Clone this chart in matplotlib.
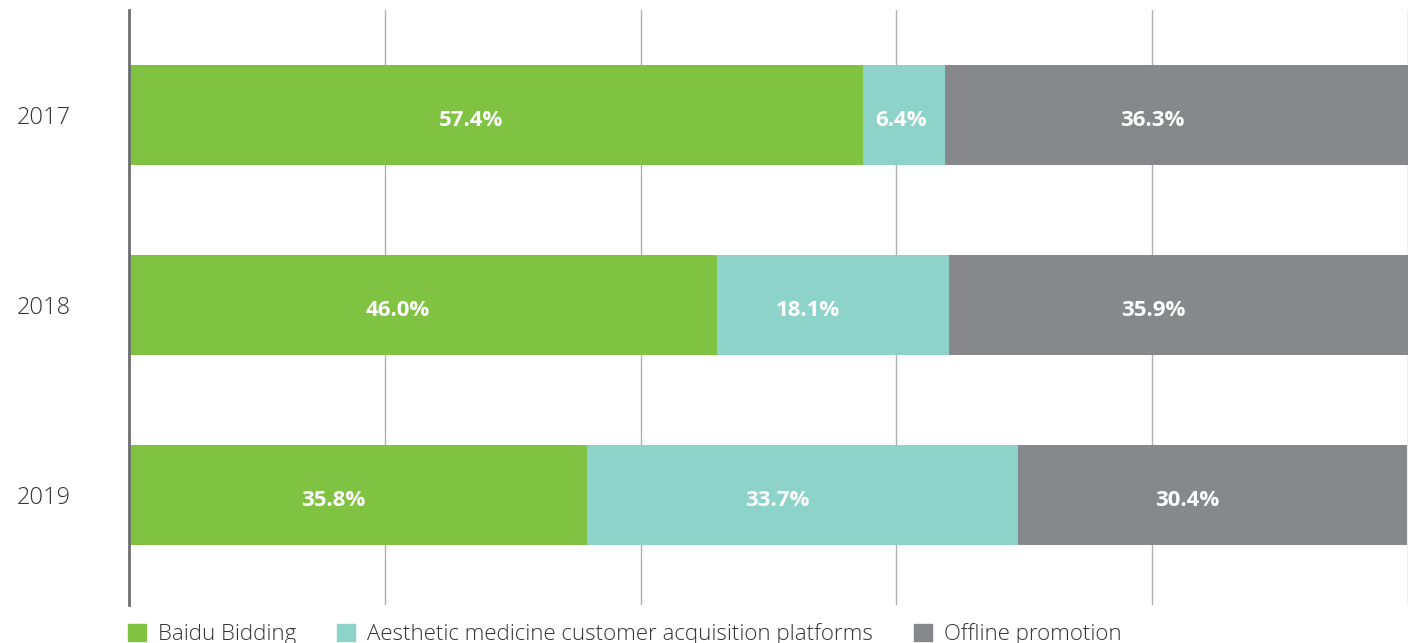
import numpy as np
import matplotlib.pyplot as plt
from matplotlib.patches import Patch

plt.rcParams['font.family'] = ['Open Sans', 'DejaVu Sans']

years = ['2017', '2018', '2019']
baidu = [57.4, 46.0, 35.8]
platforms = [6.4, 18.1, 33.7]
offline = [36.3, 35.9, 30.4]
series_names = ['Baidu Bidding', 'Aesthetic medicine customer acquisition platforms', 'Offline promotion']
colors = ['#80c242', '#8dd3ca', '#86888c']

fig = plt.figure(figsize=(14.13, 6.43), dpi=100)
ax = fig.add_axes([129 / 1413, 38 / 643, 1279 / 1413, 595 / 643])

y = np.arange(len(years))
left = np.zeros(len(years))
for vals, c in zip([baidu, platforms, offline], colors):
    vals = np.array(vals)
    ax.barh(y, vals, left=left, height=0.526, color=c, zorder=3)
    for yi, l, v in zip(y, left, vals):
        shift = -1.95 if v > 10 else -0.25
        ax.text(l + v / 2 + shift, yi + 0.03, f'{v:.1f}%', ha='center', va='center',
                color='white', fontsize=16, fontweight='bold', zorder=4)
    left = left + vals

ax.set_xlim(0, 100)
ax.set_ylim(2.579, -0.553)
ax.set_xticks([0, 20, 40, 60, 80, 100])
ax.set_xticklabels([])
ax.tick_params(axis='x', length=0)
ax.grid(axis='x', color='#b0b0b0', linewidth=1, zorder=0)
ax.set_yticks(y)
ax.set_yticklabels(years, fontsize=17, color='#333333', fontweight='light')
ax.tick_params(axis='y', length=0, pad=42)
for s in ['top', 'right', 'bottom']:
    ax.spines[s].set_visible(False)
ax.spines['left'].set_color('#6d6e71')
ax.spines['left'].set_linewidth(2)
ax.spines['left'].set_zorder(5)

handles = [Patch(color=c) for c in colors]
fig.legend(handles, series_names, loc='center left', bbox_to_anchor=(108 / 1413, 9 / 643),
           ncol=3, frameon=False, handlelength=0.8, handleheight=0.8,
           handletextpad=0.55, columnspacing=1.85, labelcolor='#333333',
           prop={'family': 'Open Sans', 'size': 16, 'weight': 'light'})

fig.savefig('out.png', dpi=100)
